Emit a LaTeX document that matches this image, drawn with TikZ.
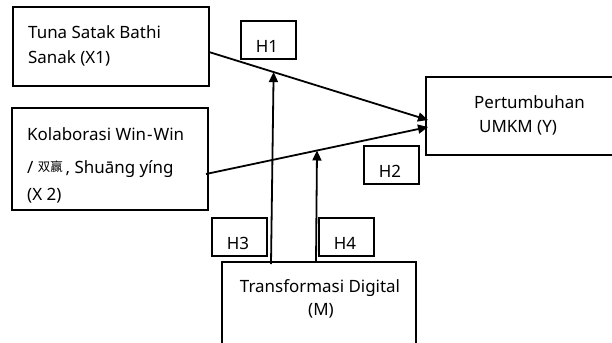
\documentclass[tikz,border=0pt]{standalone}
\usepackage{fontspec}
\setmainfont{Noto Sans}
\newfontfamily\cjkfont{Noto Sans CJK SC}
\usetikzlibrary{arrows.meta}
\tikzset{
  varbox/.style={draw, line width=1.1bp, inner sep=0pt},
  hbox/.style={draw, line width=1.1bp, inner sep=0pt, minimum width=55bp, minimum height=38bp},
  hlabel/.style={anchor=base, inner sep=0pt, yshift=7bp, xshift=-1.5bp, font=\fontsize{17}{20}\selectfont},
  boxtext/.style={anchor=base west, inner sep=0pt, align=left, font=\fontsize{17}{20}\selectfont},
  effect/.style={line width=1.8bp, -{Triangle[length=10bp,width=9bp]}}
}
\begin{document}
\begin{tikzpicture}[x=1bp,y=-1bp]
    \useasboundingbox (0,0) rectangle (612,342);
    % boxes
    \node[varbox, minimum width=196bp, minimum height=79bp] (x1) at (111,46.5) {};
    \node[varbox, minimum width=196bp, minimum height=102bp] (x2) at (110,159) {};
    \node[varbox, minimum width=194bp, minimum height=78bp] (y) at (523,116) {};
    \node[varbox, minimum width=194bp, minimum height=90bp] (m) at (319,307) {};
    \node[hbox, label={[hlabel]south:H1}] (h1) at (268.5,40) {};
    \node[hbox, label={[hlabel]south:H2}] (h2) at (391.5,165) {};
    \node[hbox, label={[hlabel]south:H3}] (h3) at (239.5,237) {};
    \node[hbox, label={[hlabel]south:H4}] (h4) at (346.5,237) {};
    % texts
    \node[boxtext] (x1a) at (28,38) {Tuna Satak Bathi};
    \node[boxtext] (x1b) at (28,63) {Sanak (X1)};
    \node[boxtext] (x2a) at (27,140) {Kolaborasi Win\kern1bp-\kern1bp Win};
    \node[boxtext] (x2b) at (27,173) {/ \raisebox{2bp}{\cjkfont\fontsize{12.5}{14}\selectfont 双赢}\,, Shuāng yíng};
    \node[boxtext] (x2c) at (27,200) {(X 2)};
    \node[boxtext] (ya) at (474,108) {Pertumbuhan};
    \node[boxtext] (yb) at (479,132) {UMKM (Y)};
    \node[anchor=base, inner sep=0pt, font=\fontsize{17}{20}\selectfont] (ma) at (320,292) {Transformasi Digital};
    \node[anchor=base, inner sep=0pt, font=\fontsize{17}{20}\selectfont] (mb) at (321,315) {(M)};
    % paths
    \coordinate (x1out) at (209,52);
    \coordinate (x2out) at (206,174);
    \coordinate (yin1) at (428,120);
    \coordinate (yin2) at (428,127);
    \draw[effect] (x1out) -- (yin1) coordinate[pos=0.295] (mod1);
    \draw[effect] (x2out) -- (yin2) coordinate[pos=0.5] (mod2);
    \coordinate (m1) at (271,264);
    \coordinate (m2) at (316,262);
    \draw[effect] (m1) -- (mod1);
    \draw[effect] (m2) -- (mod2);
\end{tikzpicture}
\end{document}
